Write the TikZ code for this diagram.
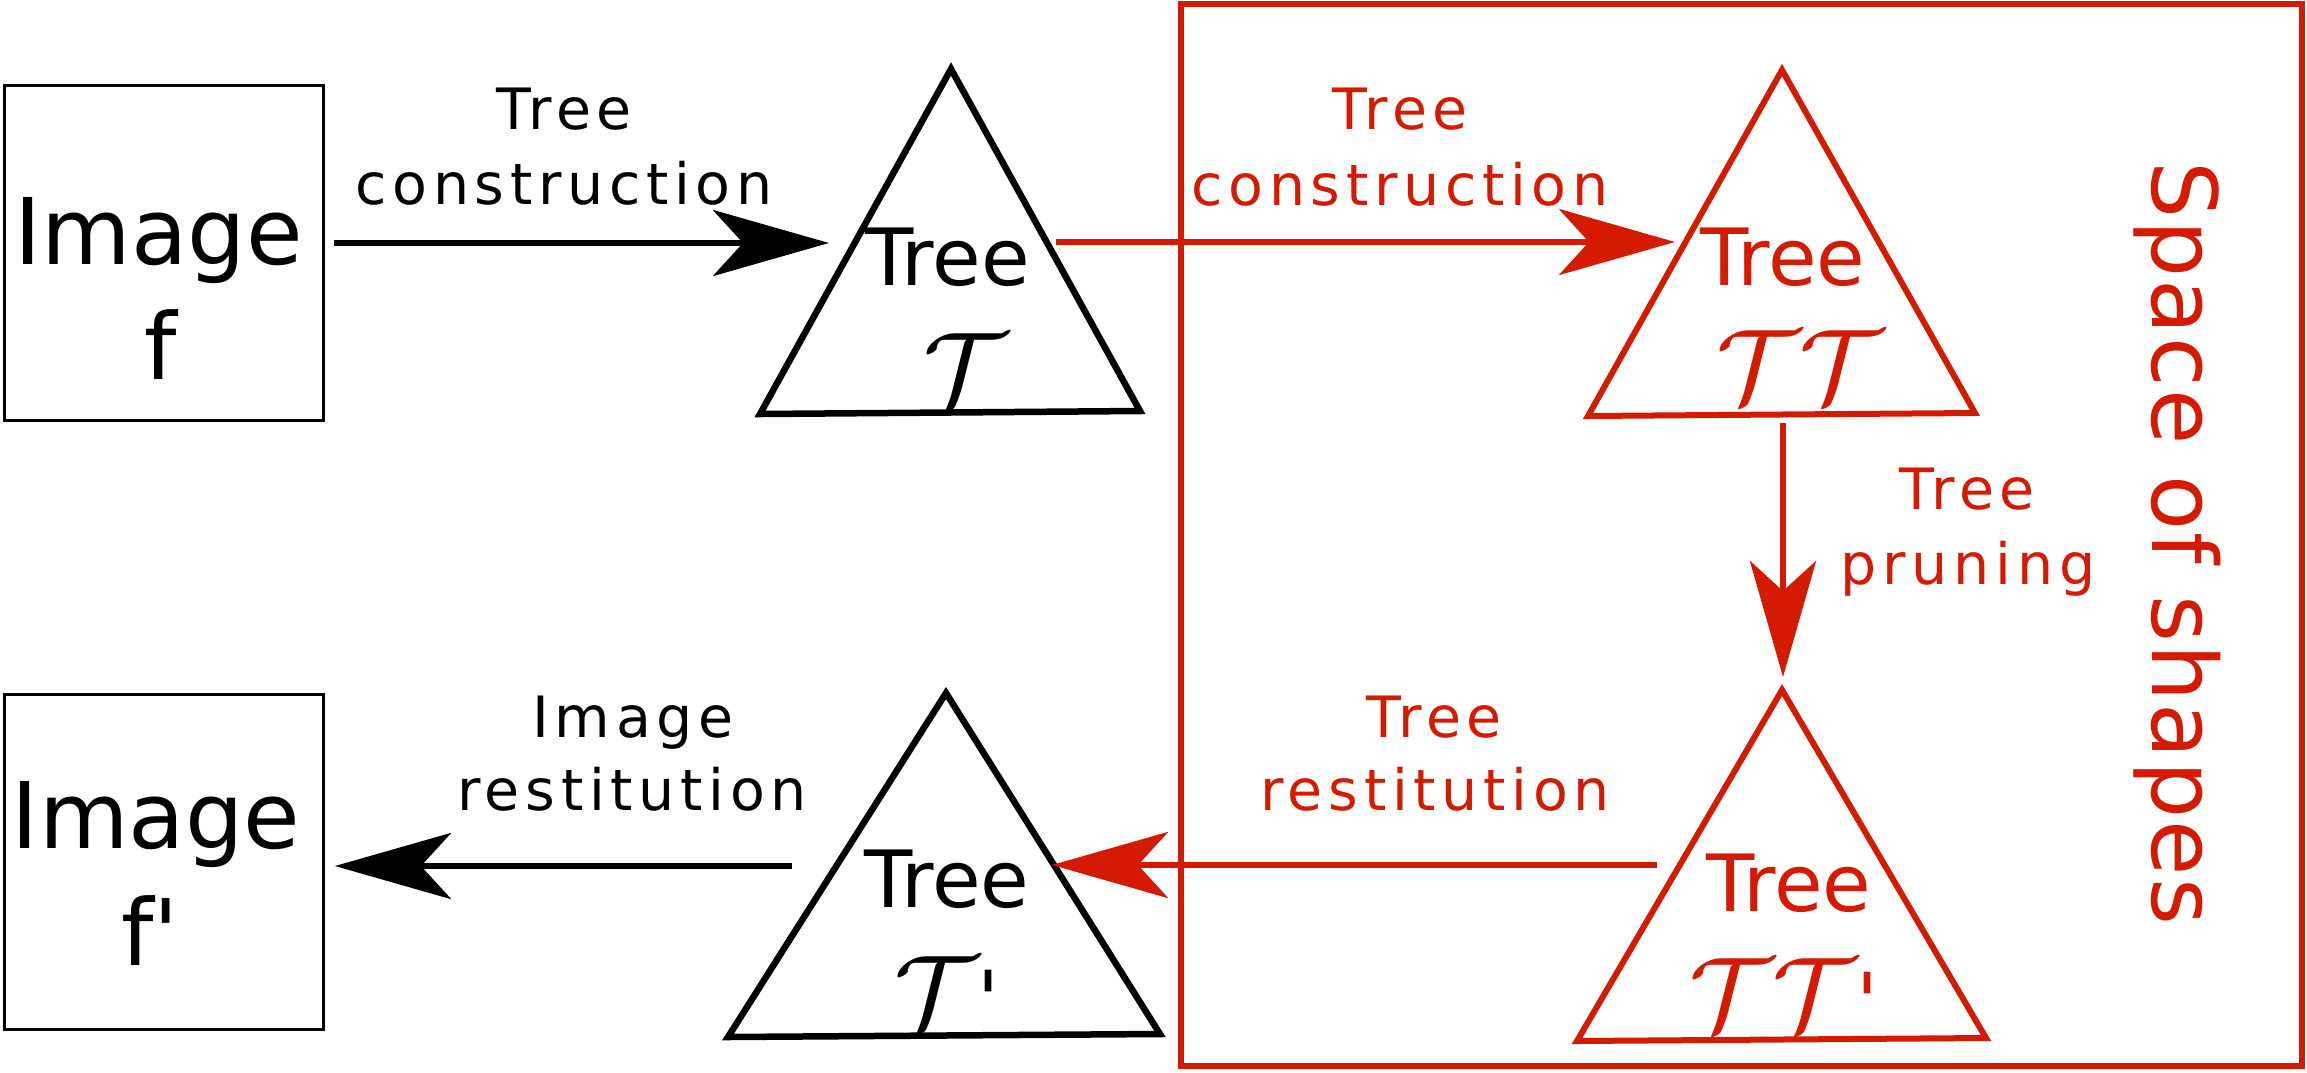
\documentclass[tikz,border=0pt]{standalone}
\usepackage{fontspec}
\setmainfont{DejaVu Sans}
\newfontfamily\lblfont[LetterSpace=10]{DejaVu Sans}
\newfontfamily\sosfont[LetterSpace=2.5]{DejaVu Sans}
\usetikzlibrary{arrows.meta}
\definecolor{myred}{HTML}{D41A00}
\newcommand{\bigcal}[1]{\scalebox{10.5}{$\mathcal{#1}$}}
\newcommand{\myprime}{{\fontsize{80}{80}\selectfont\textquotesingle}}
\tikzset{
  imgbox/.style={draw=black, line width=3pt, minimum width=319pt, minimum height=335pt, inner sep=0pt},
  blktri/.style={draw=black, line width=6.5pt, line join=miter},
  redtri/.style={draw=myred, line width=6pt, line join=miter},
  tip/.style={-{Stealth[length=116pt,width=66pt,inset=30pt]}},
  blkarrow/.style={draw=black, line width=6pt, tip},
  redarrow/.style={draw=myred, line width=6pt, tip},
  bigtxt/.style={anchor=base, inner sep=0pt, font=\fontsize{92}{110}\selectfont},
  treetxt/.style={anchor=base, inner sep=0pt, font=\fontsize{79}{90}\selectfont},
  caltxt/.style={anchor=base, inner sep=0pt, font=\fontsize{10}{12}\selectfont},
  lbl/.style={anchor=base, inner sep=0pt, font=\lblfont\fontsize{57}{70}\selectfont}
}
\begin{document}
\begin{tikzpicture}[x=1pt,y=-1pt]
\useasboundingbox (0,0) rectangle (2307,1072);

% Image boxes
\node[imgbox] (imgf) at (163.5,252.5) {};
\node[imgbox] (imgfp) at (164,861.5) {};
\node[bigtxt] (imgfa) at (158.5,264) {Image};
\node[bigtxt] (imgfb) at (161,379) {f};
\node[bigtxt] (imgfpa) at (156,848) {Image};
\node[bigtxt] (imgfpb) at (150,965) {f\textquotesingle};

% Space of shapes frame
\draw[myred, line width=6.5pt] (1181,4) rectangle (2302,1066);
\node[anchor=base, inner sep=0pt, rotate=-90, text=myred, font=\sosfont\fontsize{90}{100}\selectfont] (sos) at (2152,543) {Space of shapes};

% Triangle vertices
\coordinate (t1a) at (951,69);
\coordinate (t1l) at (760,414);
\coordinate (t1r) at (1140,411);
\coordinate (t2a) at (1782,70);
\coordinate (t2l) at (1588,416);
\coordinate (t2r) at (1975,413);
\coordinate (t3a) at (946,693);
\coordinate (t3l) at (728,1037);
\coordinate (t3r) at (1160,1034);
\coordinate (t4a) at (1782,690);
\coordinate (t4l) at (1577,1041);
\coordinate (t4r) at (1986,1038);

\draw[blktri] (t1a) -- (t1l) -- (t1r) -- cycle;
\draw[redtri] (t2a) -- (t2l) -- (t2r) -- cycle;
\draw[blktri] (t3a) -- (t3l) -- (t3r) -- cycle;
\draw[redtri] (t4a) -- (t4l) -- (t4r) -- cycle;

% Triangle texts
\node[treetxt] (tr1) at (947.5,285) {Tree};
\node[caltxt] (c1) at (965,405) {\bigcal{T}};
\node[treetxt, text=myred] (tr2) at (1783,285) {Tree};
\node[caltxt, text=myred] (c2) at (1800,402) {\bigcal{TT}};
\node[treetxt] (tr3) at (947,907) {Tree};
\node[caltxt] (c3) at (947,1028) {\bigcal{T}\myprime};
\node[treetxt, text=myred] (tr4) at (1789,911) {Tree};
\node[caltxt, text=myred] (c4) at (1784,1030) {\bigcal{TT}\myprime};

% Arrow end points
\coordinate (a1s) at (334,243);
\coordinate (a1e) at (829,243);
\coordinate (a2s) at (1056,242);
\coordinate (a2e) at (1675,242);
\coordinate (a3s) at (1783,423);
\coordinate (a3e) at (1783,677);
\coordinate (a4s) at (1657,865);
\coordinate (a4e) at (1052,865);
\coordinate (a5s) at (792,866);
\coordinate (a5e) at (335,866);

\draw[blkarrow] (a1s) -- (a1e);
\draw[redarrow] (a2s) -- (a2e);
\draw[redarrow] (a3s) -- (a3e);
\draw[redarrow] (a4s) -- (a4e);
\draw[blkarrow] (a5s) -- (a5e);

% Labels
\node[lbl] (l1a) at (564,129) {Tree};
\node[lbl] (l1b) at (564,204) {construction};
\node[lbl, text=myred] (l2a) at (1400,129) {Tree};
\node[lbl, text=myred] (l2b) at (1400,205) {construction};
\node[lbl, text=myred] (l3a) at (1967,509) {Tree};
\node[lbl, text=myred] (l3b) at (1968,584) {pruning};
\node[lbl, text=myred] (l4a) at (1434,737) {Tree};
\node[lbl, text=myred] (l4b) at (1435,810) {restitution};
\node[lbl] (l5a) at (633,737) {Image};
\node[lbl] (l5b) at (632,810) {restitution};
\end{tikzpicture}
\end{document}
